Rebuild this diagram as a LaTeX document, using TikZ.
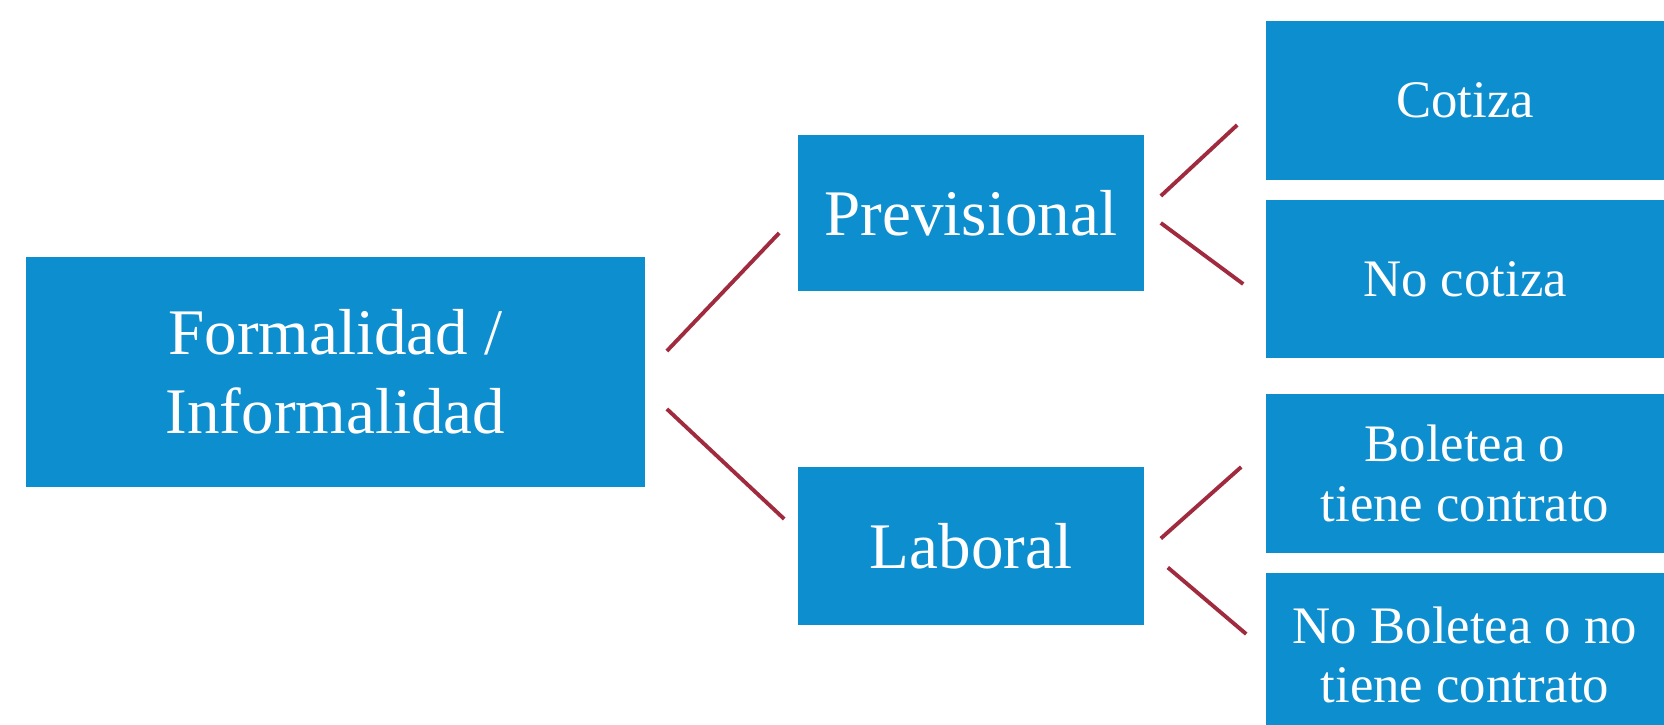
\documentclass[tikz,border=0pt]{standalone}
\usepackage{fontspec}
\setmainfont{Liberation Serif}
\usepackage{xcolor}
\definecolor{boxblue}{HTML}{0D8ECF}
\definecolor{linkred}{HTML}{A02A3E}
\usetikzlibrary{positioning, calc}

\begin{document}
\begin{tikzpicture}[x=0.01cm, y=-0.01cm,
    bigbox/.style={fill=boxblue, text=white, align=center, inner sep=0pt,
      font=\fontsize{18.5}{22.5}\selectfont},
    smallbox/.style={fill=boxblue, text=white, align=center, inner sep=0pt,
      minimum width=3.98cm, minimum height=1.58cm,
      font=\fontsize{15}{17}\selectfont},
    link/.style={linkred, line width=1.1pt}]
  \useasboundingbox (0,0) rectangle (1664,725);
  \clip (0,0) rectangle (1664,725);
  % raiz
  \node[bigbox, minimum width=6.19cm, minimum height=2.30cm] (form) at (335.5,372)
    {Formalidad /\\Informalidad};
  % segundo nivel
  \node[bigbox, minimum width=3.46cm, minimum height=1.55cm] (prev) at (971,213) {Previsional};
  \node[bigbox, minimum width=3.46cm, minimum height=1.57cm] (lab) at (971,546) {Laboral};
  % hojas
  \node[smallbox] (cot) at (1465,100.5) {Cotiza};
  \node[smallbox] (nocot) at (1465,279) {No cotiza};
  \node[smallbox] (bol) at (1465,473.5) {Boletea o\\tiene contrato};
  \node[smallbox, minimum height=1.64cm] (nobol) at (1465,655) {No Boletea o no\\tiene contrato};
  % conectores
  \draw[link] ($(form.east)+(21,-21)$) -- ($(prev.west)+(-18,20)$);
  \draw[link] ($(form.east)+(21,37)$) -- ($(lab.west)+(-13,-27)$);
  \draw[link] ($(prev.east)+(16,-17)$) -- ($(cot.west)+(-28,24.5)$);
  \draw[link] ($(prev.east)+(16,10)$) -- ($(nocot.west)+(-22,5)$);
  \draw[link] ($(lab.east)+(16,-7.5)$) -- ($(bol.west)+(-24,-6.5)$);
  \draw[link] ($(lab.east)+(23,21.5)$) -- ($(nobol.west)+(-19,-21)$);
\end{tikzpicture}
\end{document}
